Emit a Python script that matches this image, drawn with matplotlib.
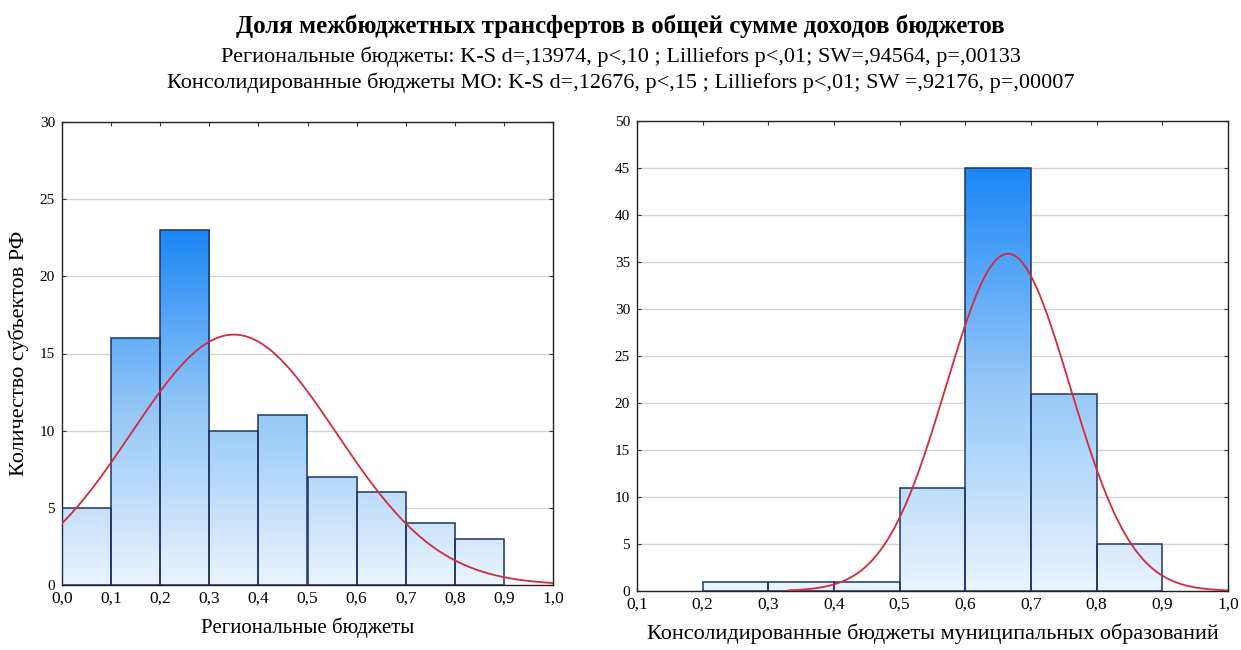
import matplotlib.pyplot as plt
import numpy as np
from matplotlib.colors import LinearSegmentedColormap
from matplotlib.patches import Rectangle

plt.rcParams['font.family'] = ['Liberation Serif', 'DejaVu Serif']

# данные гистограмм
reg_edges = [0.0, 0.1, 0.2, 0.3, 0.4, 0.5, 0.6, 0.7, 0.8, 0.9]
reg_counts = [5, 16, 23, 10, 11, 7, 6, 4, 3]
mo_edges = [0.2, 0.3, 0.4, 0.5, 0.6, 0.7, 0.8]
mo_counts = [1, 1, 1, 11, 45, 21, 5]

# параметры нормальной кривой (оценка по рисунку)
reg_mu, reg_sd, reg_n = 0.35, 0.209, 85
mo_mu, mo_sd, mo_n = 0.665, 0.0945, 85
bin_w = 0.1

title = "Доля межбюджетных трансфертов в общей сумме доходов бюджетов"
sub1 = "Региональные бюджеты: K-S d=,13974, p<,10 ; Lilliefors p<,01; SW=,94564, p=,00133"
sub2 = "Консолидированные бюджеты МО: K-S d=,12676, p<,15 ; Lilliefors p<,01; SW =,92176, p=,00007"

cmap = LinearSegmentedColormap.from_list('bl', ['#eaf4fe', '#92c6f7', '#1c86f6'])


def hist_panel(ax, edges, counts, mu, sd, n, xlim, ylim, xstart):
    top = max(counts)
    grad = np.linspace(0, 1, 256).reshape(-1, 1)
    for x0, c in zip(edges, counts):
        im = ax.imshow(grad, cmap=cmap, aspect='auto', origin='lower',
                       extent=[x0, x0 + bin_w, 0, top], zorder=2)
        r = Rectangle((x0, 0), bin_w, c, fill=False, ec='#1d3563', lw=1.1, zorder=3)
        ax.add_patch(r)
        im.set_clip_path(r)
    x = np.linspace(xstart, xlim[1], 300)
    y = n * bin_w / (sd * np.sqrt(2 * np.pi)) * np.exp(-(x - mu) ** 2 / (2 * sd ** 2))
    ax.plot(x, y, color='#d42a3c', lw=1.3, zorder=4)
    ax.set_xlim(*xlim)
    ax.set_ylim(*ylim)
    ax.grid(axis='y', color='#d2d2d2', lw=0.9, zorder=0)
    ax.set_axisbelow(True)
    ax.tick_params(direction='in', top=True, right=True, length=3, color='#333333')
    ax.tick_params(axis='x', labelsize=12.5, pad=4)
    ax.tick_params(axis='y', labelsize=11, pad=5)
    ax.xaxis.set_major_formatter(plt.FuncFormatter(lambda v, p: f"{v:.1f}".replace('.', ',')))
    for s in ax.spines.values():
        s.set_color('#222222')
        s.set_linewidth(1.0)


fig = plt.figure(figsize=(12.41, 6.5), dpi=100)
ax1 = fig.add_axes([62 / 1241, 1 - 585 / 650, 491 / 1241, 463 / 650])
ax2 = fig.add_axes([637 / 1241, 1 - 591 / 650, 591 / 1241, 470 / 650])

hist_panel(ax1, reg_edges, reg_counts, reg_mu, reg_sd, reg_n, (0, 1.0), (0, 30), 0.0)
ax1.set_xticks(np.arange(0, 1.01, 0.1))
ax1.set_yticks(range(0, 31, 5))
ax1.set_xlabel("Региональные бюджеты", fontsize=15, labelpad=8)
ax1.set_ylabel("Количество субъектов РФ", fontsize=16, labelpad=8)

hist_panel(ax2, mo_edges, mo_counts, mo_mu, mo_sd, mo_n, (0.1, 1.0), (0, 50), 0.33)
ax2.set_xticks(np.arange(0.1, 1.01, 0.1))
ax2.set_yticks(range(0, 51, 5))
ax2.set_xlabel("Консолидированные бюджеты муниципальных образований", fontsize=16, labelpad=8)

fig.text(0.5, 1 - 33 / 650, title, ha='center', va='baseline', fontsize=18, fontweight='bold')
fig.text(0.5, 1 - 62 / 650, sub1, ha='center', va='baseline', fontsize=16)
fig.text(0.5, 1 - 88 / 650, sub2, ha='center', va='baseline', fontsize=16)

fig.savefig('out.png', dpi=100)
